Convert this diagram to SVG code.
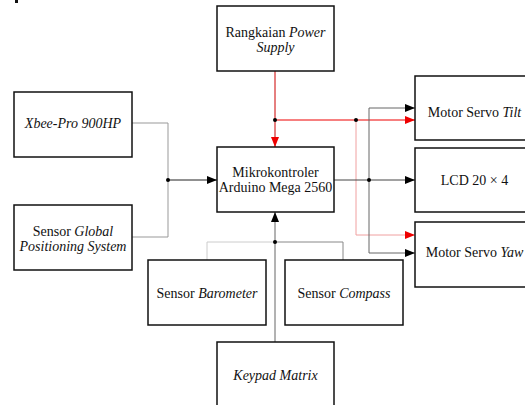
<svg xmlns="http://www.w3.org/2000/svg" width="525" height="405" viewBox="0 0 525 405">
<style>
.box{fill:#fff;stroke:#111;stroke-width:1.5}
.t{font-family:'Liberation Serif','Times New Roman','DejaVu Serif',serif;font-size:14px;fill:#111;text-anchor:middle}
.i{font-style:italic}
.ln{fill:none;stroke-width:1}
</style>
<defs>
<marker id="ab" viewBox="0 0 10 8" refX="10" refY="4" markerWidth="10" markerHeight="8" markerUnits="userSpaceOnUse" orient="auto"><path d="M0,0 L10,4 L0,8 Z" fill="#000"/></marker>
<marker id="ar" viewBox="0 0 10 8" refX="10" refY="4" markerWidth="10" markerHeight="8" markerUnits="userSpaceOnUse" orient="auto"><path d="M0,0 L10,4 L0,8 Z" fill="#ee0000"/></marker>
</defs>
<rect width="525" height="405" fill="#fff"/>
<rect x="15" y="0" width="3" height="3" fill="#111"/>
<g id="connectors">
<path class="ln" stroke="#999" d="M132,123 H168 V237 H132"/>
<path class="ln" stroke="#222" d="M168,180 H217" marker-end="url(#ab)"/>
<path class="ln" stroke="#cc0000" d="M275,71 V147" marker-end="url(#ar)"/>
<path class="ln" stroke="#ee0000" d="M275,120 H415" marker-end="url(#ar)"/>
<path class="ln" stroke="#f0a0a0" d="M356,120 V235 H415" marker-end="url(#ar)"/>
<path class="ln" stroke="#444" d="M334,180 H415" marker-end="url(#ab)"/>
<path class="ln" stroke="#666" d="M369,253 V108 H415" marker-end="url(#ab)"/>
<path class="ln" stroke="#666" d="M369,253 H415" marker-end="url(#ab)"/>
<path class="ln" stroke="#666" d="M275,342 V212" marker-end="url(#ab)"/>
<path class="ln" stroke="#ccc" d="M207,260 V242 H275"/>
<path class="ln" stroke="#888" d="M275,242 H343 V260"/>
<g fill="#000">
<circle cx="168" cy="180" r="2"/>
<circle cx="275" cy="120" r="2"/>
<circle cx="356" cy="120" r="2"/>
<circle cx="369" cy="180" r="2"/>
<circle cx="275" cy="242" r="2"/>
</g>
</g>
<g id="power"><rect class="box" x="217" y="6" width="117" height="65"/>
<text class="t" x="275.5" y="37">Rangkaian <tspan class="i">Power</tspan></text>
<text class="t i" x="275.5" y="52">Supply</text></g>
<g id="xbee"><rect class="box" x="14" y="92" width="118" height="65"/>
<text class="t i" x="73" y="128">Xbee-Pro 900HP</text></g>
<g id="gps"><rect class="box" x="14" y="205" width="118" height="65"/>
<text class="t" x="73" y="236">Sensor <tspan class="i">Global</tspan></text>
<text class="t i" x="73" y="251">Positioning System</text></g>
<g id="mikro"><rect class="box" x="217" y="147" width="117" height="65"/>
<text class="t" x="275.5" y="177">Mikrokontroler</text>
<text class="t" x="275.5" y="192">Arduino Mega 2560</text></g>
<g id="tilt"><rect class="box" x="415" y="76" width="120" height="64"/>
<text class="t" x="474.5" y="117">Motor Servo <tspan class="i">Tilt</tspan></text></g>
<g id="lcd"><rect class="box" x="415" y="148" width="120" height="64"/>
<text class="t" x="474.5" y="185">LCD 20 × 4</text></g>
<g id="yaw"><rect class="box" x="415" y="222" width="120" height="65"/>
<text class="t" x="474.5" y="257">Motor Servo <tspan class="i">Yaw</tspan></text></g>
<g id="barometer"><rect class="box" x="148" y="260" width="118" height="65"/>
<text class="t" x="207" y="298">Sensor <tspan class="i">Barometer</tspan></text></g>
<g id="compass"><rect class="box" x="285" y="260" width="118" height="65"/>
<text class="t" x="344" y="298">Sensor <tspan class="i">Compass</tspan></text></g>
<g id="keypad"><rect class="box" x="217" y="342" width="117" height="70"/>
<text class="t i" x="275.5" y="380">Keypad Matrix</text></g>
</svg>
